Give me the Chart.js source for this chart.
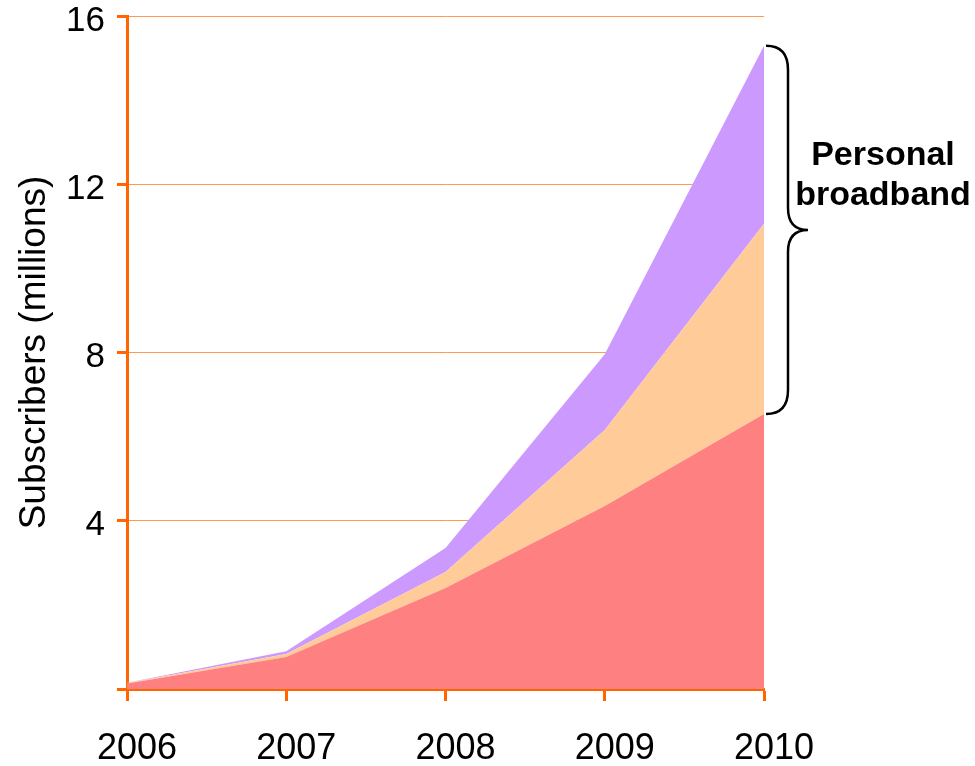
<!DOCTYPE html>
<html>
<head>
<meta charset="utf-8">
<script src="https://cdn.jsdelivr.net/npm/chart.js@4/dist/chart.umd.min.js"></script>
<style>
  html, body { margin: 0; padding: 0; background: #fff; }
</style>
</head>
<body>
<canvas id="chart" width="975" height="766"></canvas>
<script>
// values (millions), each series is its own layer of the stack
const years = ['2006', '2007', '2008', '2009', '2010'];
const baseSubs = [0.13, 0.76, 2.40, 4.35, 6.54];
const midSubs = [0.01, 0.07, 0.38, 1.81, 4.52];
const topSubs = [0.01, 0.07, 0.57, 1.80, 4.23];
const yTicks = [4, 8, 12, 16];
const braceLabel = ['Personal', 'broadband'];

const ORANGE = '#FF6600';
const FONT = 'Arial, "Liberation Sans", sans-serif';

// curly brace next to the last column, spanning the two upper layers
const bracePlugin = {
  id: 'brace',
  afterDatasetsDraw(chart) {
    const { ctx, scales } = chart;
    const last = years.length - 1;
    const x0 = scales.x.getPixelForValue(last) + 2;
    const yTop = scales.y.getPixelForValue(baseSubs[last] + midSubs[last] + topSubs[last]);
    const yBot = scales.y.getPixelForValue(baseSubs[last]);
    const mid = (yTop + yBot) / 2;
    const xs = x0 + 22, xm = x0 + 42;

    ctx.save();
    ctx.strokeStyle = '#000';
    ctx.lineWidth = 2.5;
    ctx.beginPath();
    ctx.moveTo(x0, yTop);
    ctx.quadraticCurveTo(xs, yTop, xs, yTop + 24);
    ctx.lineTo(xs, mid - 22);
    ctx.quadraticCurveTo(xs, mid, xm, mid);
    ctx.quadraticCurveTo(xs, mid, xs, mid + 22);
    ctx.lineTo(xs, yBot - 24);
    ctx.quadraticCurveTo(xs, yBot, x0, yBot);
    ctx.stroke();

    ctx.fillStyle = '#000';
    ctx.font = 'bold 34px ' + FONT;
    ctx.textAlign = 'center';
    ctx.textBaseline = 'alphabetic';
    ctx.fillText(braceLabel[0], 883, 165);
    ctx.fillText(braceLabel[1], 883, 205);
    ctx.restore();
  }
};

function layer(data, color, fill) {
  return {
    data: data,
    backgroundColor: color,
    borderWidth: 0,
    pointRadius: 0,
    tension: 0,
    fill: fill
  };
}

new Chart(document.getElementById('chart'), {
  type: 'line',
  data: {
    labels: years,
    datasets: [
      layer(baseSubs, '#FF8080', 'origin'),
      layer(midSubs, '#FFCC99', '-1'),
      layer(topSubs, '#CC99FF', '-1')
    ]
  },
  options: {
    responsive: false,
    animation: false,
    devicePixelRatio: 1,
    layout: { padding: { top: 16, right: 211, left: 0, bottom: 0 } },
    plugins: {
      legend: { display: false },
      tooltip: { enabled: false }
    },
    scales: {
      x: {
        offset: false,
        grid: {
          drawOnChartArea: false,
          drawTicks: true,
          tickLength: 12,
          tickColor: ORANGE,
          tickWidth: 3
        },
        border: { color: ORANGE, width: 3 },
        ticks: {
          color: '#000',
          font: { family: FONT, size: 36 },
          padding: 26,
          labelOffset: 10,
          maxRotation: 0
        },
        afterFit(scale) {
          scale.height = 77;
          scale.paddingLeft = 0;
          scale.paddingRight = 0;
        }
      },
      y: {
        stacked: true,
        min: 0,
        max: 16,
        afterBuildTicks(scale) {
          scale.ticks = [0].concat(yTicks).map(v => ({ value: v }));
        },
        grid: {
          color: '#FF9A50',
          lineWidth: 1,
          drawTicks: true,
          tickLength: 10,
          tickColor: ORANGE,
          tickWidth: 3
        },
        border: { color: ORANGE, width: 3 },
        ticks: {
          color: '#000',
          font: { family: FONT, size: 35 },
          padding: 12,
          labelOffset: 5,
          callback: v => (v === 0 ? '' : v)
        },
        title: {
          display: true,
          text: 'Subscribers (millions)',
          color: '#000',
          font: { family: FONT, size: 37 },
          padding: { top: 13, bottom: 0 }
        },
        afterFit(scale) {
          scale.width = 127;
          scale.paddingTop = 0;
          scale.paddingBottom = 0;
        }
      }
    }
  },
  plugins: [bracePlugin]
});
</script>
</body>
</html>
